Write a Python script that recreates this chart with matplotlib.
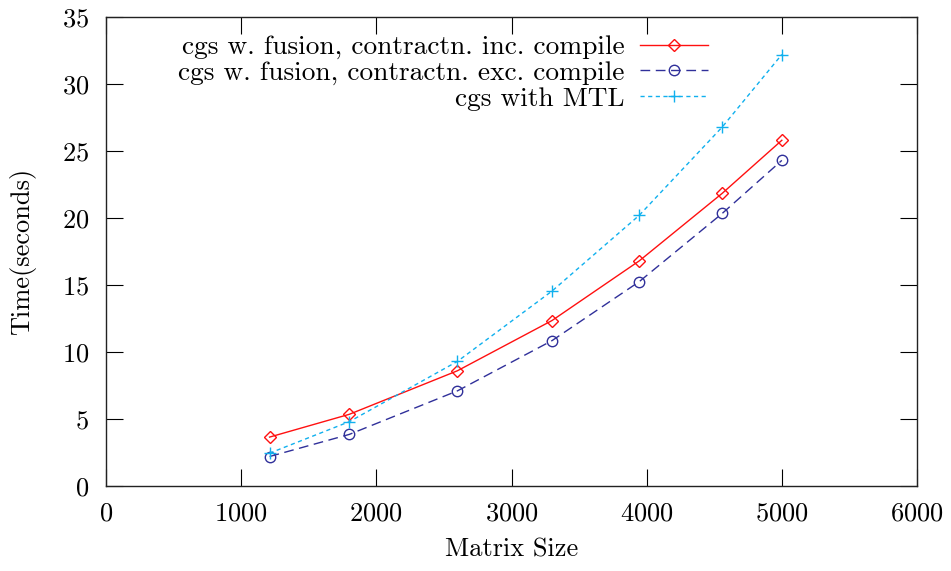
import matplotlib
matplotlib.use("Agg")
import matplotlib.pyplot as plt

sizes = [1210, 1800, 2600, 3300, 3945, 4560, 5000]
inc_compile = [3.65, 5.35, 8.6, 12.35, 16.8, 21.85, 25.8]
exc_compile = [2.2, 3.85, 7.1, 10.85, 15.25, 20.35, 24.3]
mtl = [2.45, 4.8, 9.3, 14.55, 20.2, 26.8, 32.2]
labels = ["cgs w. fusion, contractn. inc. compile",
          "cgs w. fusion, contractn. exc. compile",
          "cgs with MTL"]
xticks = [0, 1000, 2000, 3000, 4000, 5000, 6000]
yticks = [0, 5, 10, 15, 20, 25, 30, 35]

plt.rcParams['font.family'] = ['cmr10', 'DejaVu Serif']
plt.rcParams['axes.formatter.use_mathtext'] = True
FS = 19
plt.rcParams['font.size'] = FS

fig = plt.figure(figsize=(9.51, 5.71), dpi=100)
ax = fig.add_axes([106/951, 1-486/571, (917-106)/951, (486-17)/571])

ax.plot(sizes, inc_compile, color='#ff1010', lw=1.0, ls='-', marker='D',
        ms=6.5, mfc='none', mec='#ff1010', mew=1.0, label=labels[0])
ax.plot(sizes, exc_compile, color='#30309a', lw=1.0, ls=(0, (7, 4)), marker='o',
        ms=7.5, mfc='none', mec='#30309a', mew=1.0, label=labels[1])
ax.plot(sizes, mtl, color='#10b0ee', lw=1.0, ls=(0, (3, 2.5)), marker='+',
        ms=9, mew=1.0, label=labels[2])

ax.set_xlim(0, 6000)
ax.set_ylim(0, 35)
ax.set_xticks(xticks)
ax.set_yticks(yticks)
ax.tick_params(direction='in', length=12, width=0.8, top=True, right=True,
               labelsize=FS)
ax.tick_params(axis='x', pad=11.5)
ax.tick_params(axis='y', pad=12)
for s in ax.spines.values():
    s.set_linewidth(1.0)
    s.set_color('#222222')

ax.set_xlabel("Matrix Size", fontsize=FS)
ax.set_ylabel("Time(seconds)", fontsize=FS)
ax.xaxis.set_label_coords(0.5, (486-538)/469)
ax.yaxis.set_label_coords((36-106)/811, 0.5)

leg = ax.legend(loc='upper right', bbox_to_anchor=(708/951, 1-35/571),
                bbox_transform=fig.transFigure, frameon=False,
                markerfirst=False, handlelength=2.5, handletextpad=0.55,
                labelspacing=0.05, borderpad=0, borderaxespad=0, fontsize=19.7)
for t in leg.get_texts():
    t.set_ha('right')
leg._legend_box.align = 'right'

fig.savefig("out.png", dpi=100)
